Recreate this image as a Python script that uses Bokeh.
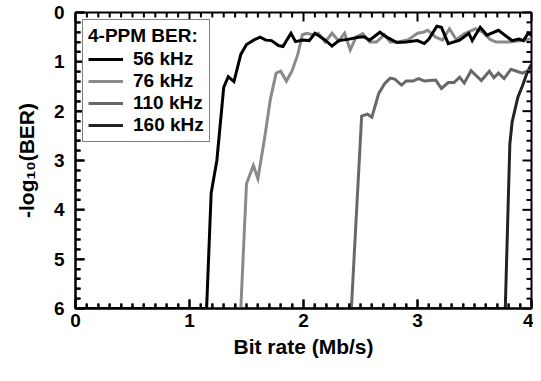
import numpy as np
from bokeh.plotting import figure
from bokeh.models import Range1d, FixedTicker, Legend, LegendItem
from bokeh.embed import file_html
from bokeh.resources import INLINE

# ---- data ----
x_56 = [0, 1.15, 1.19, 1.24, 1.30, 1.34, 1.39, 1.45, 1.50, 1.57, 1.62, 1.67, 1.72, 1.78, 1.82,
        1.89, 1.93, 1.99, 2.05, 2.10, 2.18, 2.25, 2.31, 2.40, 2.48, 2.53, 2.58, 2.67, 2.73,
        2.82, 2.90, 3.00, 3.06, 3.10, 3.17, 3.21, 3.27, 3.37, 3.45, 3.48, 3.55, 3.61, 3.71,
        3.83, 3.89, 3.93, 3.97, 4.00]
y_56 = [6, 6, 3.66, 3.00, 1.52, 1.30, 1.40, 0.85, 0.65, 0.55, 0.50, 0.56, 0.57, 0.67, 0.69,
        0.42, 0.59, 0.56, 0.57, 0.42, 0.54, 0.68, 0.57, 0.54, 0.50, 0.49, 0.56, 0.40, 0.50,
        0.61, 0.60, 0.57, 0.63, 0.54, 0.28, 0.30, 0.63, 0.56, 0.42, 0.57, 0.30, 0.46, 0.36,
        0.57, 0.54, 0.57, 0.42, 0.46]

x_76 = [0, 1.45, 1.50, 1.56, 1.60, 1.66, 1.71, 1.76, 1.80, 1.85, 1.90, 1.95, 1.99, 2.03, 2.08,
        2.13, 2.19, 2.25, 2.31, 2.36, 2.41, 2.46, 2.52, 2.58, 2.64, 2.71, 2.76, 2.82, 2.92,
        3.00, 3.05, 3.09, 3.16, 3.22, 3.28, 3.34, 3.41, 3.51, 3.57, 3.64, 3.69, 3.80, 3.92, 4.00]
y_76 = [6, 6, 3.47, 3.10, 3.37, 2.53, 1.75, 1.23, 1.19, 1.39, 1.18, 0.85, 0.45, 0.42, 0.45,
        0.42, 0.60, 0.42, 0.58, 0.42, 0.76, 0.50, 0.43, 0.60, 0.60, 0.45, 0.60, 0.60, 0.55,
        0.42, 0.40, 0.36, 0.50, 0.56, 0.33, 0.55, 0.43, 0.33, 0.40, 0.55, 0.60, 0.60, 0.57, 0.53]

x_110 = [0, 2.42, 2.51, 2.56, 2.60, 2.66, 2.71, 2.76, 2.80, 2.86, 2.90, 2.96, 3.01, 3.06, 3.11,
         3.16, 3.21, 3.27, 3.32, 3.37, 3.41, 3.47, 3.56, 3.63, 3.67, 3.71, 3.76, 3.82, 3.92,
         3.97, 4.00]
y_110 = [6, 6, 2.10, 2.06, 2.12, 1.64, 1.45, 1.33, 1.35, 1.47, 1.39, 1.39, 1.34, 1.39, 1.38,
         1.37, 1.54, 1.42, 1.42, 1.31, 1.43, 1.18, 1.38, 1.19, 1.32, 1.23, 1.34, 1.15, 1.23,
         1.18, 1.23]

x_160 = [0, 3.77, 3.81, 3.83, 3.88, 3.92, 3.96, 3.99, 4.00]
y_160 = [6, 6, 2.67, 2.22, 1.72, 1.49, 1.23, 1.09, 1.05]

labels = ["56 kHz", "76 kHz", "110 kHz", "160 kHz"]
colors = ["#000000", "#8a8a8a", "#686868", "#222222"]
legend_title = "4-PPM BER:"
x_label = "Bit rate (Mb/s)"
y_label = "-log\u2081\u2080(BER)"

# axis ticks
x_major = [0.0, 1.0, 2.0, 3.0, 4.0]
y_major = [0.0, 1.0, 2.0, 3.0, 4.0, 5.0, 6.0]
x_minor = [float(v) for v in np.round(np.arange(0, 4.0001, 0.1), 2) if abs(v - round(v)) > 1e-6]
y_minor = [float(v) for v in np.round(np.arange(0, 6.0001, 0.2), 2) if abs(v - round(v)) > 1e-6]
X0, X1 = 0.0, 4.0
Y0, Y1 = 6.0, 0.0

FONT = "Liberation Sans"

W, H = 533, 365
BL, BR, BT, BB = 75, 2, 12, 57
FRAME_W = W - BL - BR
FRAME_H = H - BT - BB
PX_X = (X1 - X0) / FRAME_W     # data units per pixel, x
PX_Y = (Y0 - Y1) / FRAME_H     # data units per pixel, y
MAJ, MIN = 9, 5                # inward tick lengths in pixels

p = figure(width=W, height=H, output_backend="svg", toolbar_location=None,
           x_range=Range1d(X0, X1), y_range=Range1d(Y0, Y1),
           min_border_left=BL, min_border_right=BR, min_border_top=BT, min_border_bottom=BB,
           x_axis_label=x_label, y_axis_label=y_label)
p.xgrid.visible = False
p.ygrid.visible = False
p.outline_line_color = "black"
p.outline_line_width = 2

series = [(x_56, y_56), (x_76, y_76), (x_110, y_110), (x_160, y_160)]
renderers = [None] * 4
# highest frequency first so the lower ones sit on top
for i in reversed(range(4)):
    xs, ys = series[i]
    renderers[i] = p.line(xs, ys, line_color=colors[i], line_width=3, line_join="miter")

# inward ticks on all four sides, drawn as segments on the overlay level
for pos, L in ((y_major, MAJ), (y_minor, MIN)):
    n = len(pos)
    p.segment(x0=[X0] * n, y0=pos, x1=[X0 + L * PX_X] * n, y1=pos,
              line_color="black", line_width=2, level="overlay")
    p.segment(x0=[X1] * n, y0=pos, x1=[X1 - L * PX_X] * n, y1=pos,
              line_color="black", line_width=2, level="overlay")
for pos, L in ((x_major, MAJ), (x_minor, MIN)):
    n = len(pos)
    p.segment(x0=pos, y0=[Y0] * n, x1=pos, y1=[Y0 - L * PX_Y] * n,
              line_color="black", line_width=2, level="overlay")
    p.segment(x0=pos, y0=[Y1] * n, x1=pos, y1=[Y1 + L * PX_Y] * n,
              line_color="black", line_width=2, level="overlay")

for ax, ticks, minors in ((p.xaxis[0], x_major, x_minor), (p.yaxis[0], y_major, y_minor)):
    ax.ticker = FixedTicker(ticks=ticks, minor_ticks=minors)
    ax.axis_line_color = "black"
    ax.axis_line_width = 2
    ax.major_tick_in = MAJ
    ax.major_tick_out = 0
    ax.minor_tick_in = MIN
    ax.minor_tick_out = 0
    ax.major_tick_line_color = "black"
    ax.minor_tick_line_color = "black"
    ax.major_tick_line_width = 2
    ax.minor_tick_line_width = 2
    ax.major_label_text_font = FONT
    ax.major_label_text_font_style = "bold"
    ax.major_label_text_font_size = "19px"
    ax.major_label_text_color = "black"
    ax.axis_label_text_font = FONT
    ax.axis_label_text_font_style = "bold"
    ax.axis_label_text_font_size = "21px"
    ax.axis_label_text_color = "black"

p.xaxis[0].major_label_standoff = 5
p.xaxis[0].axis_label_standoff = 5
p.yaxis[0].major_label_standoff = 11
p.yaxis[0].axis_label_standoff = 13

legend = Legend(items=[LegendItem(label=labels[i], renderers=[renderers[i]]) for i in range(4)],
                title=legend_title, location="top_left")
legend.title_text_font = FONT
legend.title_text_font_style = "bold"
legend.title_text_font_size = "19px"
legend.title_text_color = "black"
legend.title_standoff = 1
legend.label_text_font = FONT
legend.label_text_font_style = "bold"
legend.label_text_font_size = "19px"
legend.label_text_color = "black"
legend.label_height = 20
legend.glyph_width = 35
legend.label_standoff = 10
legend.spacing = 0
legend.padding = 5
legend.margin = 7
legend.border_line_color = "black"
legend.border_line_width = 1.5
legend.background_fill_color = "white"
legend.background_fill_alpha = 1.0
p.add_layout(legend)

open("out.html", "w").write(file_html(p, INLINE))
